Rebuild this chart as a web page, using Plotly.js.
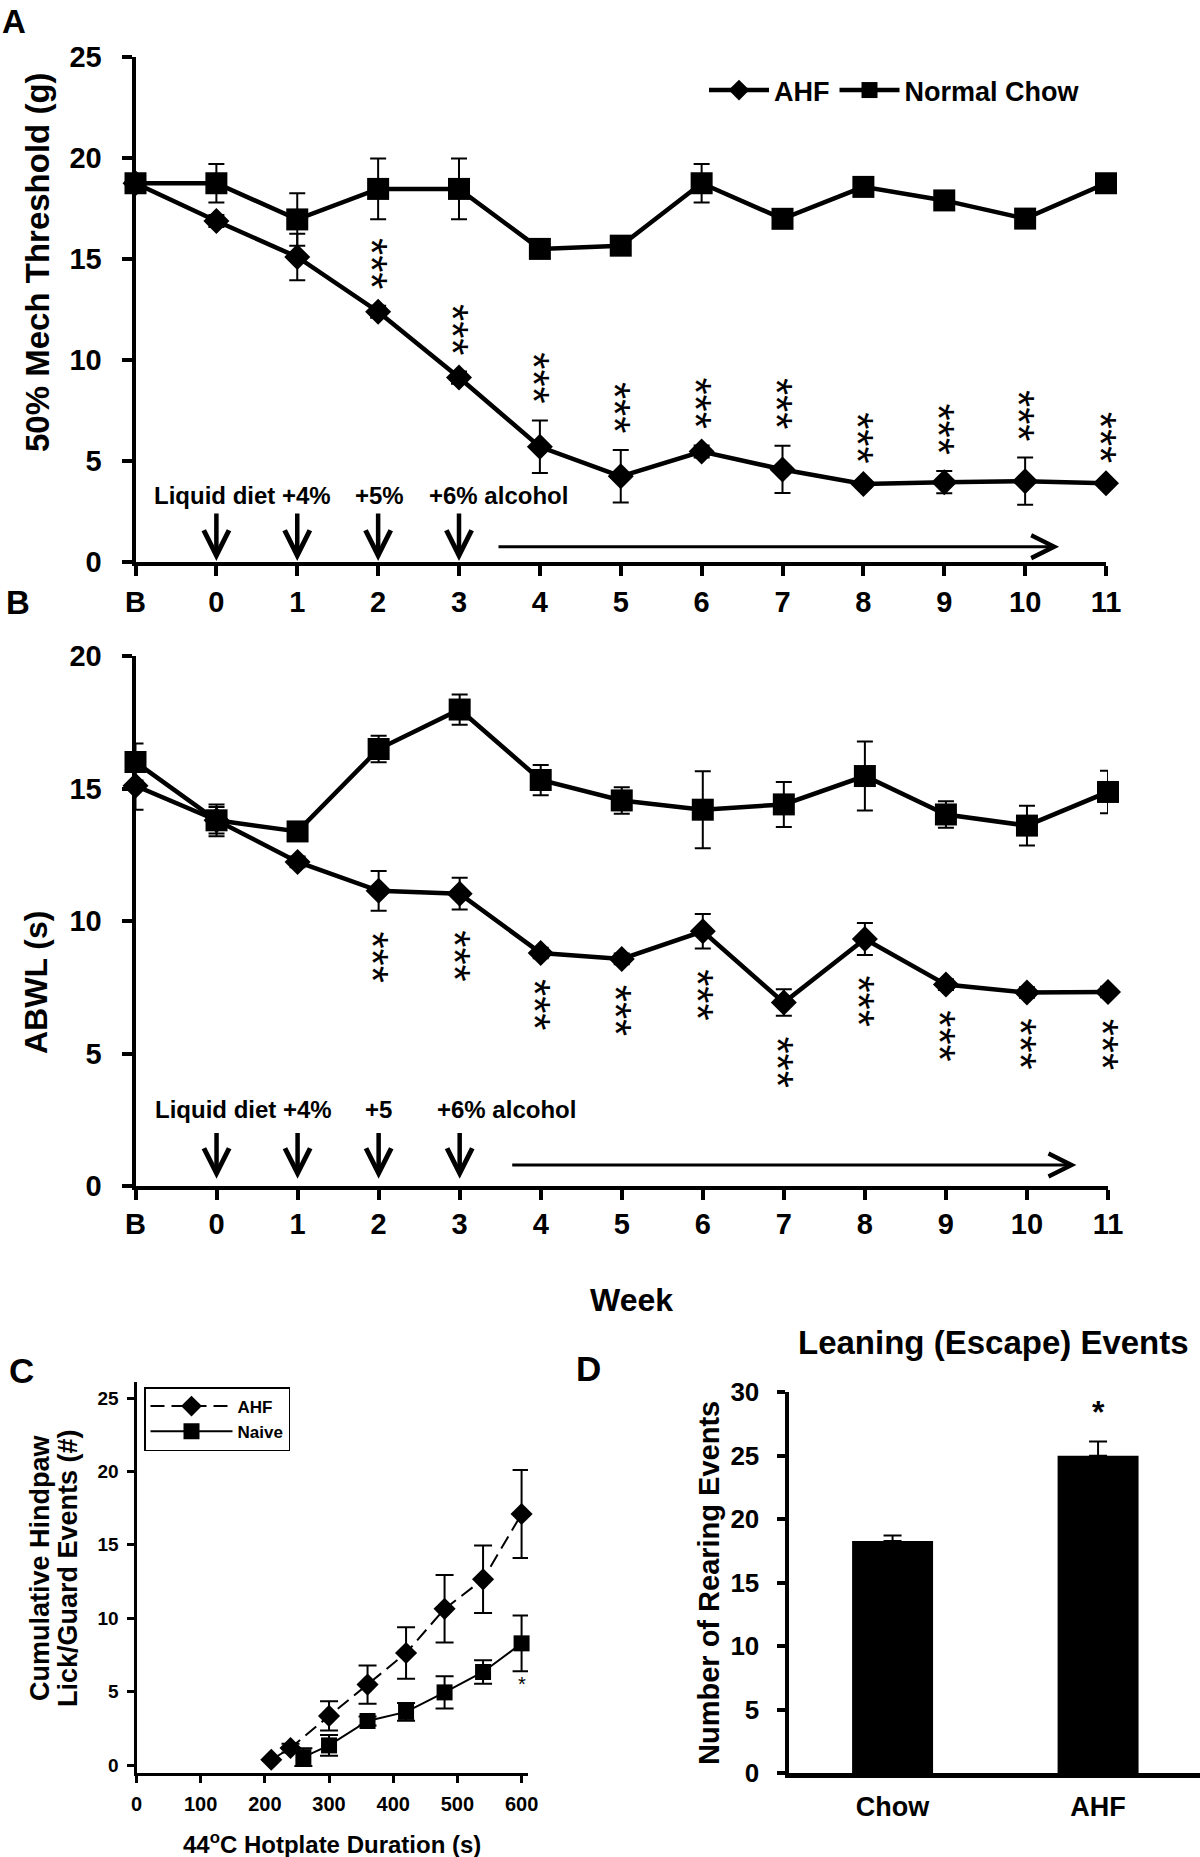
<!DOCTYPE html>
<html>
<head>
<meta charset="utf-8">
<script src="https://cdn.plot.ly/plotly-3.0.1.min.js"></script>
<style>
  body { margin: 0; background: #fff; }
  #chart { width: 1200px; height: 1857px; }
</style>
</head>
<body>
<div id="chart"></div>
<script>
// A + B: x axis weeks
var weeks = ['B', '0', '1', '2', '3', '4', '5', '6', '7', '8', '9', '10', '11'];

// A: 50% mech threshold (g)
var mechAHF     = [18.75, 16.88, 15.10, 12.39, 9.13, 5.70, 4.24, 5.47, 4.58, 3.86, 3.95, 4.00, 3.90];
var mechAHFErr  = [0.2, 0.3, 1.15, 0.3, 0.3, 1.3, 1.3, 0.3, 1.17, 0.2, 0.55, 1.17, 0.2];
var mechChow    = [18.75, 18.75, 16.96, 18.47, 18.47, 15.50, 15.66, 18.75, 16.99, 18.57, 17.90, 17.00, 18.75];
var mechChowErr = [0.2, 0.95, 1.3, 1.5, 1.5, 0.3, 0.2, 0.95, 0.2, 0.2, 0.2, 0.2, 0.2];

// B: ABWL (s)
var abwlAHF     = [15.10, 13.80, 12.23, 11.14, 11.03, 8.79, 8.57, 9.61, 6.92, 9.32, 7.60, 7.30, 7.32];
var abwlAHFErr  = [0.9, 0.5, 0.2, 0.75, 0.6, 0.2, 0.2, 0.65, 0.5, 0.6, 0.2, 0.2, 0.2];
var abwlChow    = [16.00, 13.80, 13.38, 16.49, 17.98, 15.32, 14.55, 14.20, 14.40, 15.47, 14.02, 13.60, 14.87];
var abwlChowErr = [0.7, 0.6, 0.35, 0.5, 0.57, 0.57, 0.5, 1.45, 0.85, 1.3, 0.5, 0.75, 0.8];

// C: cumulative hindpaw lick/guard events on 44C hotplate
var hotAHFTime   = [210, 240, 300, 360, 420, 480, 540, 600];
var hotAHF       = [0.36, 1.16, 3.35, 5.48, 7.63, 10.64, 12.65, 17.10];
var hotAHFErr    = [0, 0.3, 1.0, 1.3, 1.75, 2.3, 2.3, 3.0];
var hotNaiveTime = [260, 300, 360, 420, 480, 540, 600];
var hotNaive     = [0.54, 1.34, 3.00, 3.62, 4.95, 6.34, 8.29];
var hotNaiveErr  = [0.6, 0.7, 0.3, 0.6, 1.1, 0.8, 1.9];

// D: leaning (escape) events
var groups     = ['Chow', 'AHF'];
var rearing    = [18.27, 24.98];
var rearingErr = [0.43, 1.13];

var FONT = 'Liberation Sans, Arial, Helvetica, sans-serif';
var W = 1200, H = 1857;
function px(x) { return x / W; }
function py(y) { return 1 - y / H; }

function lineTrace(x, y, err, symbol, name, xa, ya, opts) {
  var t = {
    x: x, y: y, name: name, xaxis: xa, yaxis: ya,
    type: 'scatter', mode: 'lines+markers', cliponaxis: false,
    line: {color: '#000', width: opts.lw},
    marker: {symbol: symbol, size: opts.ms, color: '#000'},
    error_y: {type: 'data', array: err, color: '#000', thickness: opts.et, width: opts.ew},
    showlegend: opts.legend !== undefined,
    hoverinfo: 'skip'
  };
  if (opts.legend) t.legend = opts.legend;
  if (opts.dash) t.line.dash = opts.dash;
  return t;
}

var big = {lw: 4.5, et: 2, ew: 8};
var data = [
  lineTrace(weeks, mechAHF, mechAHFErr, 'diamond', 'AHF', 'x', 'y', Object.assign({ms: 20, legend: 'legend'}, big)),
  lineTrace(weeks, mechChow, mechChowErr, 'square', 'Normal Chow', 'x', 'y', Object.assign({ms: 22, legend: 'legend'}, big)),
  lineTrace(weeks, abwlAHF, abwlAHFErr, 'diamond', 'AHF', 'x2', 'y2', Object.assign({ms: 20}, big)),
  lineTrace(weeks, abwlChow, abwlChowErr, 'square', 'Normal Chow', 'x2', 'y2', Object.assign({ms: 22}, big)),
  lineTrace(hotAHFTime, hotAHF, hotAHFErr, 'diamond', 'AHF', 'x3', 'y3', {lw: 2, ms: 17, et: 2, ew: 9, legend: 'legend2', dash: '14px,7px'}),
  lineTrace(hotNaiveTime, hotNaive, hotNaiveErr, 'square', 'Naive', 'x3', 'y3', {lw: 2, ms: 16, et: 2, ew: 9, legend: 'legend2'}),
  {
    x: groups, y: rearing, type: 'bar', xaxis: 'x4', yaxis: 'y4', width: 0.394,
    marker: {color: '#000'}, showlegend: false, hoverinfo: 'skip',
    error_y: {type: 'data', array: rearingErr, arrayminus: [0, 0], symmetric: false, color: '#000', thickness: 2, width: 9}
  }
];

function axis(extra) {
  var a = {
    showline: true, linecolor: '#000', showgrid: false, zeroline: false,
    ticks: 'outside', tickcolor: '#000', fixedrange: true
  };
  return Object.assign(a, extra);
}

var anns = [];
function text(t, x, y, size, extra) {
  anns.push(Object.assign({
    text: t, xref: 'paper', yref: 'paper', x: px(x), y: py(y),
    xanchor: 'center', yanchor: 'middle', showarrow: false, font: {size: size}
  }, extra || {}));
}

// panel letters and titles
text('A', 14, 22, 33);
text('B', 18, 602, 33);
text('C', 21, 1370, 35);
text('D', 588, 1368, 35);
text('50% Mech Threshold (g)', 37, 262, 33, {textangle: -90});
text('ABWL (s)', 36, 983, 32, {textangle: -90});
text('Week', 632, 1300, 32);
text('Cumulative Hindpaw', 40, 1568, 27, {textangle: -90});
text('Lick/Guard Events (#)', 68, 1568, 27, {textangle: -90});
text('44<sup>o</sup>C Hotplate Duration (s)', 332, 1843, 24);
text('Leaning (Escape) Events', 993, 1342, 33);
text('Number of Rearing Events', 709, 1583, 29, {textangle: -90});

// significance stars, A above and B below the AHF points
var starFont = {size: 44, weight: 'normal'};
for (var i = 3; i < weeks.length; i++) {
  anns.push({xref: 'x', yref: 'y', x: i, y: mechAHF[i] + mechAHFErr[i] + 2.1, text: '***',
    textangle: 90, showarrow: false, xshift: -6, font: starFont});
  anns.push({xref: 'x2', yref: 'y2', x: i, y: abwlAHF[i] - abwlAHFErr[i] - 1.75, text: '***',
    textangle: 90, showarrow: false, xshift: -6, font: starFont});
}
anns.push({xref: 'x3', yref: 'y3', x: hotNaiveTime[6], y: hotNaive[6] - hotNaiveErr[6] - 0.9, text: '*',
  showarrow: false, font: {size: 20, weight: 'normal'}});
anns.push({xref: 'x4', yref: 'y4', x: 1, y: rearing[1] + rearingErr[1] + 2.3, text: '*',
  showarrow: false, font: {size: 32}});

// diet schedule: labels, down arrows, long arrow
function schedule(xr, yr, labY, tailY, tipY, labels, longFrom, longTo, longY) {
  labels.forEach(function (l) {
    anns.push({xref: xr, yref: yr, x: l[1], y: labY, text: l[0], showarrow: false, font: {size: 24}});
  });
  [1, 2, 3, 4].forEach(function (k) {
    anns.push({xref: xr, yref: yr, axref: xr, ayref: yr, x: k, y: tipY, ax: k, ay: tailY, text: '',
      showarrow: true, arrowhead: 5, arrowwidth: 4.5, arrowsize: 1.1, arrowcolor: '#000', standoff: 0});
  });
  anns.push({xref: xr, yref: yr, axref: xr, ayref: yr, x: longTo, y: longY, ax: longFrom, ay: longY, text: '',
    showarrow: true, arrowhead: 5, arrowwidth: 3, arrowsize: 1.5, arrowcolor: '#000', standoff: 0});
}
schedule('x', 'y', 3.27, 2.48, 0.05, [['Liquid diet +4%', 1.32], ['+5%', 3.02], ['+6% alcohol', 4.49]], 4.47, 11.42, 0.76);
schedule('x2', 'y2', 2.87, 2.06, 0.27, [['Liquid diet +4%', 1.33], ['+5', 3.0], ['+6% alcohol', 4.58]], 4.63, 11.61, 0.79);

var layout = {
  width: W, height: H, autosize: false,
  margin: {l: 0, r: 0, t: 0, b: 0},
  paper_bgcolor: '#fff', plot_bgcolor: 'rgba(0,0,0,0)',
  font: {family: FONT, color: '#000', size: 29, weight: 'bold'},
  hovermode: false,
  xaxis: axis({domain: [px(135.5), px(1106)], anchor: 'y', type: 'category', categoryarray: weeks,
    range: [0, 12], linewidth: 4, ticklen: 10, tickwidth: 4, tickfont: {size: 29}, ticklabelstandoff: 1}),
  yaxis: axis({domain: [py(562), py(57)], anchor: 'x', range: [0, 25], dtick: 5,
    linewidth: 4, ticklen: 10, tickwidth: 4, tickfont: {size: 29}, ticklabelstandoff: 14}),
  xaxis2: axis({domain: [px(135.5), px(1108)], anchor: 'y2', type: 'category', categoryarray: weeks,
    range: [0, 12], linewidth: 4, ticklen: 10, tickwidth: 4, tickfont: {size: 29}, ticklabelstandoff: -1}),
  yaxis2: axis({domain: [py(1186), py(656)], anchor: 'x2', range: [0, 20], dtick: 5,
    linewidth: 4, ticklen: 10, tickwidth: 4, tickfont: {size: 29}, ticklabelstandoff: 14}),
  xaxis3: axis({domain: [px(136.5), px(528)], anchor: 'y3', range: [0, 610], dtick: 100,
    linewidth: 3, ticklen: 7, tickwidth: 3, tickfont: {size: 20}, ticklabelstandoff: 4}),
  yaxis3: axis({domain: [py(1773), py(1382)], anchor: 'x3', range: [-0.54, 26.09], dtick: 5, tick0: 0,
    linewidth: 3, ticklen: 7, tickwidth: 3, tickfont: {size: 19}, ticklabelstandoff: 4}),
  xaxis4: axis({domain: [px(789), 1], anchor: 'y4', type: 'category', categoryarray: groups,
    range: [-0.504, 1.496], linewidth: 4.5, ticks: '', tickfont: {size: 27}, ticklabelstandoff: 6}),
  yaxis4: axis({domain: [py(1773), py(1392)], anchor: 'x4', range: [0, 30], dtick: 5,
    linewidth: 4.5, ticklen: 8, tickwidth: 4, tickfont: {size: 26}, ticklabelstandoff: 12}),
  legend: {orientation: 'h', x: px(704), y: py(90.5), xanchor: 'left', yanchor: 'middle',
    font: {size: 27}, itemwidth: 60, bgcolor: 'rgba(0,0,0,0)'},
  legend2: {x: px(144), y: py(1387), xanchor: 'left', yanchor: 'top', font: {size: 17},
    itemwidth: 82, bgcolor: '#fff', bordercolor: '#000', borderwidth: 1.5},
  annotations: anns
};

Plotly.newPlot('chart', data, layout, {staticPlot: true});
</script>
</body>
</html>
